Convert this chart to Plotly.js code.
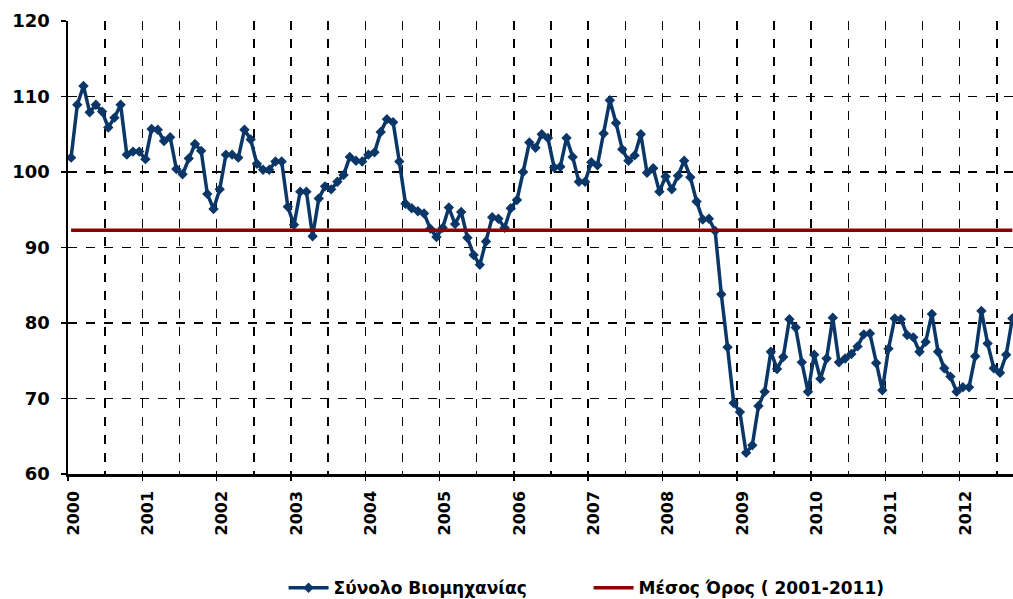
<!DOCTYPE html>
<html>
<head>
<meta charset="utf-8">
<script src="https://cdn.plot.ly/plotly-3.0.1.min.js"></script>
<style>html,body{margin:0;padding:0;background:#fff;}#chart{width:1013px;height:599px;}</style>
</head>
<body>
<div id="chart"></div>
<script>
// Monthly values, Jan 2000 - Sep 2012
const years = ["2000","2001","2002","2003","2004","2005","2006","2007","2008","2009","2010","2011","2012"];
const v2000 = [101.9,108.9,111.4,107.9,108.9,108.0,105.9,107.2,108.9,102.3,102.7,102.7];
const v2001 = [101.7,105.7,105.6,104.1,104.6,100.4,99.7,101.8,103.7,102.8,97.1,95.1];
const v2002 = [97.7,102.3,102.3,101.9,105.6,104.3,101.1,100.3,100.3,101.4,101.4,95.4];
const v2003 = [93.0,97.4,97.4,91.5,96.5,98.1,97.7,98.7,99.6,102.0,101.5,101.4];
const v2004 = [102.3,102.6,105.3,107.0,106.6,101.4,95.8,95.2,94.8,94.5,92.5,91.4];
const v2005 = [92.6,95.3,93.1,94.7,91.3,89.0,87.7,90.8,94.0,93.8,92.6,95.2];
const v2006 = [96.3,100.0,103.9,103.2,105.0,104.5,100.6,100.7,104.5,102.0,98.7,98.7];
const v2007 = [101.3,100.9,105.1,109.5,106.5,103.0,101.5,102.2,105.0,99.9,100.5,97.4];
const v2008 = [99.4,97.7,99.5,101.5,99.3,96.1,93.7,93.8,92.2,83.8,76.8,69.4];
const v2009 = [68.2,62.8,63.8,69.0,70.9,76.2,73.9,75.5,80.5,79.4,74.8,70.9];
const v2010 = [75.8,72.6,75.3,80.7,74.8,75.3,75.9,76.9,78.5,78.6,74.7,71.1];
const v2011 = [76.6,80.6,80.5,78.4,78.1,76.2,77.5,81.2,76.2,74.0,72.9,70.9];
const v2012 = [71.5,71.5,75.6,81.6,77.3,74.0,73.4,75.8,80.6];
const meanValue = 92.3;
const seriesName = "Σύνολο Βιομηχανίας";
const meanName = "Μέσος Όρος ( 2001-2011)";

const total = [].concat(v2000,v2001,v2002,v2003,v2004,v2005,v2006,v2007,v2008,v2009,v2010,v2011,v2012);
const idx = total.map((_, i) => i);
const meanArr = total.map(() => meanValue);
const yearPos = years.map((_, i) => i * 12 + 0.4);

const xr = [-0.5, 152.1];
const fontFam = "Verdana, 'DejaVu Sans', sans-serif";

const traces = [
  {x: idx, y: total, name: seriesName, type: 'scatter', mode: 'lines+markers',
   line: {color: '#0A3767', width: 3.5}, marker: {symbol: 'diamond', size: 8, color: '#0A3767'}},
  {x: idx, y: meanArr, name: meanName, type: 'scatter', mode: 'lines', xaxis: 'x2',
   line: {color: '#8B0000', width: 3.5}}
];

const layout = {
  width: 1013, height: 599,
  margin: {l: 68, r: 0, t: 21, b: 125},
  paper_bgcolor: '#fff', plot_bgcolor: '#fff',
  showlegend: true,
  legend: {orientation: 'h', xref: 'container', yref: 'container', x: 0.581, xanchor: 'center', y: 0.018, yanchor: 'middle',
           font: {family: fontFam, size: 17, color: '#000', weight: 'bold'}, itemwidth: 40, tracegroupgap: 0,
           entrywidth: 250, entrywidthmode: 'pixels'},
  xaxis: {range: xr, tickmode: 'array', tickvals: yearPos, ticktext: years, tickangle: -90,
          ticks: '', showgrid: false, zeroline: false, showline: true, linecolor: '#000', linewidth: 2.5,
          ticklabelstandoff: 8,
          tickfont: {family: fontFam, size: 16, color: '#000', weight: 'bold'},
          minor: {tick0: -0.5, dtick: 6, showgrid: true, gridcolor: '#000', griddash: 'dash', gridwidth: 1.5, ticks: ''}},
  xaxis2: {range: xr, overlaying: 'x', anchor: 'y', side: 'bottom', tick0: -0.5, dtick: 12, tickmode: 'linear',
           ticks: 'outside', ticklen: 6, tickwidth: 1.5, tickcolor: '#000', showticklabels: false,
           showgrid: false, zeroline: false, showline: false},
  yaxis: {range: [60, 120], dtick: 10, tick0: 60, ticks: 'outside', ticklen: 5, tickwidth: 1.5, tickcolor: '#000',
          showline: true, linecolor: '#000', linewidth: 2.5, zeroline: false,
          showgrid: true, gridcolor: '#000', griddash: 'dash', gridwidth: 1.5,
          ticklabelstandoff: 7,
          tickfont: {family: fontFam, size: 18, color: '#000', weight: 'bold'}}
};

Plotly.newPlot('chart', traces, layout, {displayModeBar: false, staticPlot: true});
</script>
</body>
</html>
